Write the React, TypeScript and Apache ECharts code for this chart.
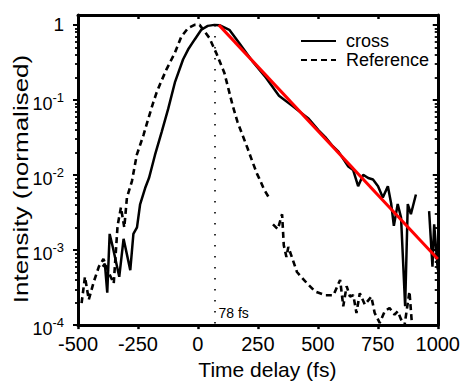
import React, { useEffect, useRef } from 'react';
import * as echarts from 'echarts';

const FONT = '"Liberation Sans", Arial, Helvetica, sans-serif';

// Axis ranges
const xMin = -500;
const xMax = 1000;
const xInterval = 250;
const yMin = 1e-4;
const yMax = 1.354;

// y tick values (log axis)
const yMajorTicks = [1e-4, 1e-3, 1e-2, 1e-1, 1];
const yMinorTicks = [
  2e-4, 3e-4, 4e-4, 5e-4, 6e-4, 7e-4, 8e-4, 9e-4,
  2e-3, 3e-3, 4e-3, 5e-3, 6e-3, 7e-3, 8e-3, 9e-3,
  2e-2, 3e-2, 4e-2, 5e-2, 6e-2, 7e-2, 8e-2, 9e-2,
  2e-1, 3e-1, 4e-1, 5e-1, 6e-1, 7e-1, 8e-1, 9e-1,
];

// "cross" (solid) trace
const crossTime = [
  -397, -388, -378, -368, -355, -328, -310, -282, -269, -254, -241, -220, -204, -193,
  -179, -151, -124, -96, -62, -41, -14, 14, 41, 69, 90, 131, 172, 227, 283, 338,
  392, 462, 503, 530, 558, 586, 627, 647, 668, 689, 710, 730, 751, 771, 792, 806,
  817, 833, 847, 864, 875, 888, 909, 935, 964, 978, 985, 1000,
];
const crossValue = [
  6.0e-4, 6.6e-4, 2.7e-4, 1.64e-3, 1.1e-3, 4.4e-4, 1.41e-3, 5.4e-4, 1.64e-3, 2.0e-3, 4.07e-3, 6.7e-3, 9.1e-3, 0.0124,
  0.0185, 0.0376, 0.076, 0.171, 0.346, 0.469, 0.635, 0.86, 0.97, 1.0, 0.99, 0.86, 0.574, 0.329, 0.199, 0.114,
  0.084, 0.056, 0.0394, 0.0323, 0.025, 0.0205, 0.013, 0.0117, 0.0071, 0.0101, 0.0091, 0.0087, 0.0071, 0.005, 0.0071, 0.0041,
  0.0021, 0.0041, 0.0027, 1.78e-4, 0.0041, 0.003, 0.0055, null, 0.0033, 6.0e-4, 0.0022, 5.5e-4,
];

// "Reference" (dashed) trace
const refTime = [
  -485, -471, -455, -434, -413, -394, -373, -351, -335, -321, -307, -296, -275, -255,
  -227, -207, -186, -172, -158, -131, -96, -69, -41, -14, 7, 48, 76, 110, 131, 145,
  165, 186, 207, 227, 248, 255, 276, 296, 304, 313, 333, 351, 358, 369, 377, 413,
  455, 489, 531, 565, 593, 606, 620, 634, 648, 661, 675, 696, 723, 737, 758, 779,
  799, 820, 833, 847, 861, 882, 895, 907,
];
const refValue = [
  1.96e-4, 4.4e-4, 2.18e-4, 3.8e-4, 6.0e-4, 7.6e-4, 5.1e-4, 3.6e-4, 2.1e-3, 3.7e-3, 2.0e-3, 5.0e-3, 8.3e-3, 0.0185,
  0.034, 0.056, 0.093, 0.126, 0.162, 0.256, 0.424, 0.7, 0.905, 1.0, 1.0, 0.668, 0.424, 0.231, 0.126, 0.084,
  0.051, 0.034, 0.0227, 0.0151, 0.0101, 0.0091, 0.0064, 0.005, null, 0.0022, 0.0019, 0.003, 0.00116, 8.1e-4, 1.1e-3, 5.1e-4,
  3.6e-4, 2.8e-4, 2.5e-4, 2.5e-4, 4.0e-4, 1.78e-4, 3.3e-4, 2.4e-4, 2.5e-4, 1.45e-4, 2.66e-4, 1.87e-4, 2.4e-4, 1.45e-4, 1.07e-4, 1.53e-4,
  1.69e-4, 1.38e-4, 1.53e-4, 1.19e-4, 9.7e-5, 2.8e-4, 8e-5, 6e-5,
];

// Exponential fit (straight on log axis)
const fitTime = [87, 1000];
const fitValue = [1.0, 7.6e-4];

// Peak marker
const markerTime = 69;
const markerTop = 1.0;
const markerLabel = '78 fs';

const pairs = (t: number[], v: (number | null)[]) =>
  t.map((x, i) => [x, v[i] === null ? '-' : v[i]]);

const yLabelFormatter = (val: number) => {
  const l = Math.log10(val);
  const n = Math.round(l);
  if (Math.abs(l - n) > 1e-6) return '';
  return n === 0 ? '{one|1}' : `{b|10}{s|${n}}`;
};

export default function App() {
  const ref = useRef<HTMLDivElement>(null);

  useEffect(() => {
    if (!ref.current) return;
    const chart = echarts.init(ref.current, undefined, { renderer: 'svg' });

    const axisLine = { show: true, onZero: false, lineStyle: { color: '#000', width: 3 } };
    const yBase = {
      type: 'log' as const,
      logBase: 10,
      min: yMin,
      max: yMax,
      splitLine: { show: false },
      minorTick: { show: false },
    };
    const xBase = {
      type: 'value' as const,
      min: xMin,
      max: xMax,
      interval: xInterval,
      splitLine: { show: false },
    };

    chart.setOption({
      animation: false,
      backgroundColor: '#fff',
      grid: { left: 78, right: 24, top: 15, bottom: 56 },
      xAxis: [
        {
          ...xBase,
          position: 'bottom',
          axisLine,
          axisTick: { show: true, length: 4, lineStyle: { color: '#000', width: 2.5 } },
          axisLabel: {
            fontSize: 20,
            color: '#000',
            margin: 9,
            fontFamily: FONT,
            formatter: (v: number) => String(v),
          },
          name: 'Time delay (fs)',
          nameLocation: 'middle',
          nameGap: 32,
          nameTextStyle: { fontSize: 21, color: '#000', fontFamily: FONT, padding: [0, 0, 0, 19] },
        },
        {
          ...xBase,
          position: 'top',
          axisLine,
          axisTick: { show: true, inside: true, length: 4, lineStyle: { color: '#000', width: 2.5 } },
          axisLabel: { show: false },
        },
      ],
      yAxis: [
        {
          ...yBase,
          position: 'left',
          axisLine,
          axisTick: { show: true, length: 5, customValues: yMajorTicks, lineStyle: { color: '#000', width: 2 } },
          axisLabel: {
            show: true,
            customValues: yMajorTicks,
            margin: 14,
            formatter: yLabelFormatter,
            color: '#000',
            fontFamily: FONT,
            rich: {
              one: { fontSize: 19, fontFamily: FONT, color: '#000' },
              b: { fontSize: 18, lineHeight: 18, padding: [8, 0, 0, 0], fontFamily: FONT, color: '#000' },
              s: { fontSize: 13, lineHeight: 13, verticalAlign: 'top', fontFamily: FONT, color: '#000' },
            },
          },
        },
        {
          ...yBase,
          position: 'right',
          axisLine,
          axisTick: { show: true, inside: true, length: 5, customValues: yMajorTicks, lineStyle: { color: '#000', width: 2 } },
          axisLabel: { show: false },
        },
        {
          ...yBase,
          position: 'left',
          axisLine: { show: false, onZero: false },
          axisTick: { show: true, length: 3, customValues: yMinorTicks, lineStyle: { color: '#000', width: 1.8 } },
          axisLabel: { show: false },
        },
        {
          ...yBase,
          position: 'right',
          axisLine: { show: false, onZero: false },
          axisTick: { show: true, inside: true, length: 3, customValues: yMinorTicks, lineStyle: { color: '#000', width: 1.8 } },
          axisLabel: { show: false },
        },
      ],
      legend: {
        data: ['cross', 'Reference'],
        orient: 'vertical',
        left: 295,
        top: 27,
        itemWidth: 35,
        itemHeight: 14,
        itemGap: 1,
        itemStyle: { opacity: 0 },
        textStyle: { fontSize: 18, lineHeight: 17, color: '#000', fontFamily: FONT, padding: [0, 0, 0, 5] },
      },
      graphic: [
        {
          type: 'text',
          x: 21.5,
          y: 179,
          rotation: Math.PI / 2,
          scaleX: 1.3,
          style: {
            text: 'Intensity (normalised)',
            fontSize: 20,
            fontFamily: FONT,
            fill: '#000',
            align: 'center',
            verticalAlign: 'middle',
          },
        },
      ],
      series: [
        {
          name: 'Reference',
          type: 'line',
          data: pairs(refTime, refValue),
          symbol: 'none',
          color: '#000',
          lineStyle: { color: '#000', width: 2.6, type: [6, 4] },
          z: 2,
        },
        {
          name: 'cross',
          type: 'line',
          data: pairs(crossTime, crossValue),
          symbol: 'none',
          color: '#000',
          lineStyle: { color: '#000', width: 2.5 },
          z: 3,
          markLine: {
            silent: true,
            symbol: ['none', 'none'],
            label: { show: false },
            lineStyle: { color: '#000', width: 1.6, type: [1.6, 9.4] },
            data: [[{ coord: [markerTime, markerTop] }, { coord: [markerTime, yMin] }]],
          },
          markPoint: {
            silent: true,
            symbol: 'circle',
            symbolSize: 0,
            data: [{ coord: [markerTime, yMin], value: markerLabel }],
            label: {
              show: true,
              position: 'right',
              distance: 4,
              offset: [0, -12],
              formatter: markerLabel,
              fontSize: 14,
              color: '#000',
              fontFamily: FONT,
            },
          },
        },
        {
          name: 'fit',
          type: 'line',
          data: pairs(fitTime, fitValue),
          symbol: 'none',
          color: '#ff0000',
          lineStyle: { color: '#ff0000', width: 3 },
          z: 4,
        },
      ],
    });

    return () => chart.dispose();
  }, []);

  return (
    <div
      ref={ref}
      style={{ position: 'fixed', left: 0, top: 0, width: 463, height: 385, background: '#fff' }}
    />
  );
}
